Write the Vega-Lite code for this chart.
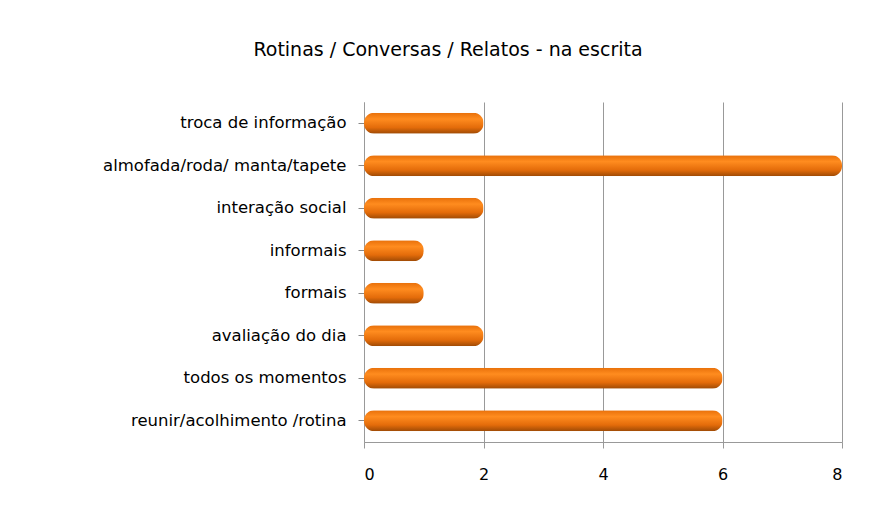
{
  "$schema": "https://vega.github.io/schema/vega-lite/v6.json",
  "width": 478,
  "height": 340,
  "autosize": {"type": "none"},
  "padding": {"left": 364, "top": 102, "right": 42, "bottom": 81},
  "background": "white",
  "title": {
    "text": "Rotinas / Conversas / Relatos - na escrita",
    "font": "DejaVu Sans",
    "fontSize": 19,
    "fontWeight": "normal",
    "color": "#000000",
    "anchor": "middle",
    "dx": -155,
    "offset": 42
  },
  "data": {
    "values": [
      {"categoria": "troca de informação", "valor": 2},
      {"categoria": "almofada/roda/ manta/tapete", "valor": 8},
      {"categoria": "interação social", "valor": 2},
      {"categoria": "informais", "valor": 1},
      {"categoria": "formais", "valor": 1},
      {"categoria": "avaliação do dia", "valor": 2},
      {"categoria": "todos os momentos", "valor": 6},
      {"categoria": "reunir/acolhimento /rotina", "valor": 6}
    ]
  },
  "mark": {
    "type": "bar",
    "height": 21,
    "cornerRadius": 10,
    "color": {
      "gradient": "linear",
      "x1": 0, "y1": 0, "x2": 0, "y2": 1,
      "stops": [
        {"offset": 0, "color": "#E8700A"},
        {"offset": 0.3, "color": "#FF8C1F"},
        {"offset": 0.7, "color": "#E46C0A"},
        {"offset": 1, "color": "#9E4A05"}
      ]
    }
  },
  "encoding": {
    "y": {
      "field": "categoria",
      "type": "nominal",
      "sort": null,
      "title": null,
      "axis": {
        "labelFont": "DejaVu Sans",
        "labelFontSize": 16.5,
        "labelLimit": 0,
        "labelColor": "#000000",
        "labelPadding": 12,
        "tickColor": "#888888",
        "tickSize": 6,
        "domainColor": "#999999",
        "grid": false
      }
    },
    "x": {
      "field": "valor",
      "type": "quantitative",
      "title": null,
      "scale": {"domain": [0, 8], "nice": false},
      "axis": {
        "values": [0, 2, 4, 6, 8],
        "labelFont": "DejaVu Sans",
        "labelFontSize": 16,
        "labelColor": "#000000",
        "labelPadding": 18,
        "tickColor": "#999999",
        "tickSize": 6,
        "domainColor": "#999999",
        "gridColor": "#999999",
        "gridWidth": 1
      }
    }
  },
  "config": {
    "view": {"stroke": null}
  }
}
